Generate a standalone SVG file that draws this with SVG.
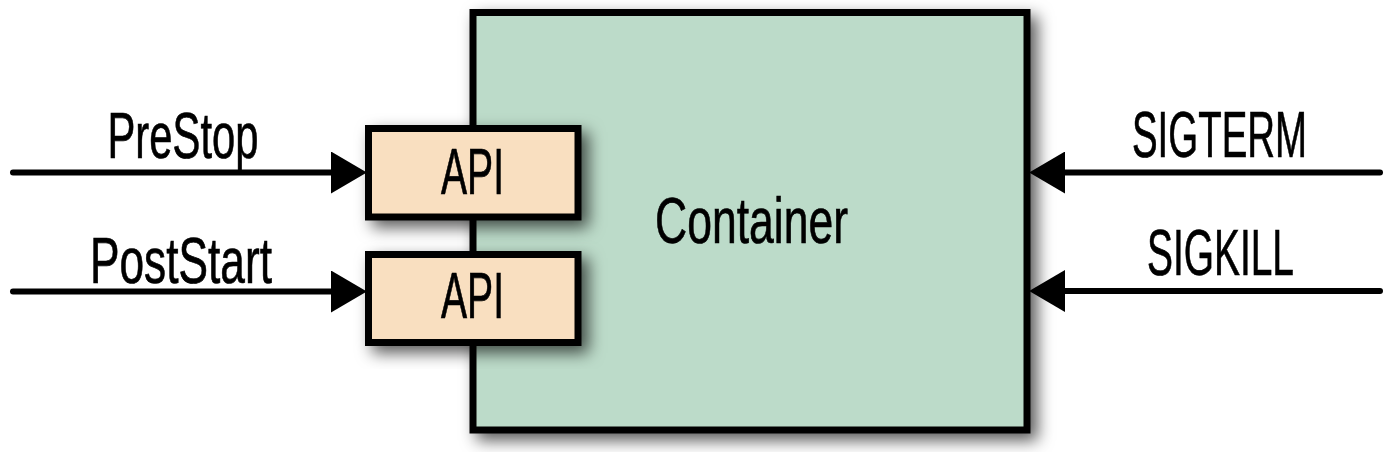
<svg xmlns="http://www.w3.org/2000/svg" width="1400" height="452" viewBox="0 0 1400 452">
  <style>
    .lbl { font-family: "Liberation Sans", Arial, sans-serif; font-size: 65px; fill: #000; stroke: #000; stroke-width: 0.7; text-anchor: middle; }
    .box { stroke: #000; stroke-width: 7; stroke-linejoin: miter; }
    .cont { fill: #bcdbc9; }
    .api { fill: #f9dfc0; }
    .conn { stroke: #000; stroke-width: 6; stroke-linecap: round; fill: none; }
  </style>
  <defs>
    <filter id="shadow" x="-20%" y="-20%" width="150%" height="150%">
      <feDropShadow dx="7" dy="7" stdDeviation="8" flood-color="#000" flood-opacity="0.65"/>
    </filter>
    <marker id="arrow" markerUnits="userSpaceOnUse" markerWidth="36" markerHeight="42" viewBox="0 0 35 41" refX="0" refY="20.5" orient="auto">
      <path d="M0,0 L35,20.5 L0,41 z" fill="#000"/>
    </marker>
  </defs>

  <g id="container">
    <rect class="box cont" x="473" y="12.5" width="554" height="417.5" filter="url(#shadow)"/>
    <text class="lbl" x="751.5" y="243" textLength="193" lengthAdjust="spacingAndGlyphs">Container</text>
  </g>

  <g id="api-prestop">
    <rect class="box api" x="368.5" y="128.5" width="209.5" height="88.5" filter="url(#shadow)"/>
    <text class="lbl" x="472.5" y="194" textLength="63" lengthAdjust="spacingAndGlyphs">API</text>
  </g>

  <g id="api-poststart">
    <rect class="box api" x="368.5" y="254.5" width="209.5" height="88" filter="url(#shadow)"/>
    <text class="lbl" x="472.5" y="318" textLength="63" lengthAdjust="spacingAndGlyphs">API</text>
  </g>

  <g id="connectors">
    <line class="conn" x1="13" y1="172.5" x2="331" y2="172.5" marker-end="url(#arrow)"/>
    <line class="conn" x1="13" y1="291.5" x2="331" y2="291.5" marker-end="url(#arrow)"/>
    <line class="conn" x1="1380" y1="172.5" x2="1065" y2="172.5" marker-end="url(#arrow)"/>
    <line class="conn" x1="1380" y1="291" x2="1065" y2="291" marker-end="url(#arrow)"/>
  </g>

  <g id="labels">
    <text class="lbl" x="183" y="158" textLength="151" lengthAdjust="spacingAndGlyphs">PreStop</text>
    <text class="lbl" x="181" y="283" textLength="182" lengthAdjust="spacingAndGlyphs">PostStart</text>
    <text class="lbl" x="1219.5" y="157" textLength="175" lengthAdjust="spacingAndGlyphs">SIGTERM</text>
    <text class="lbl" x="1220.5" y="275" textLength="147" lengthAdjust="spacingAndGlyphs">SIGKILL</text>
  </g>
</svg>
